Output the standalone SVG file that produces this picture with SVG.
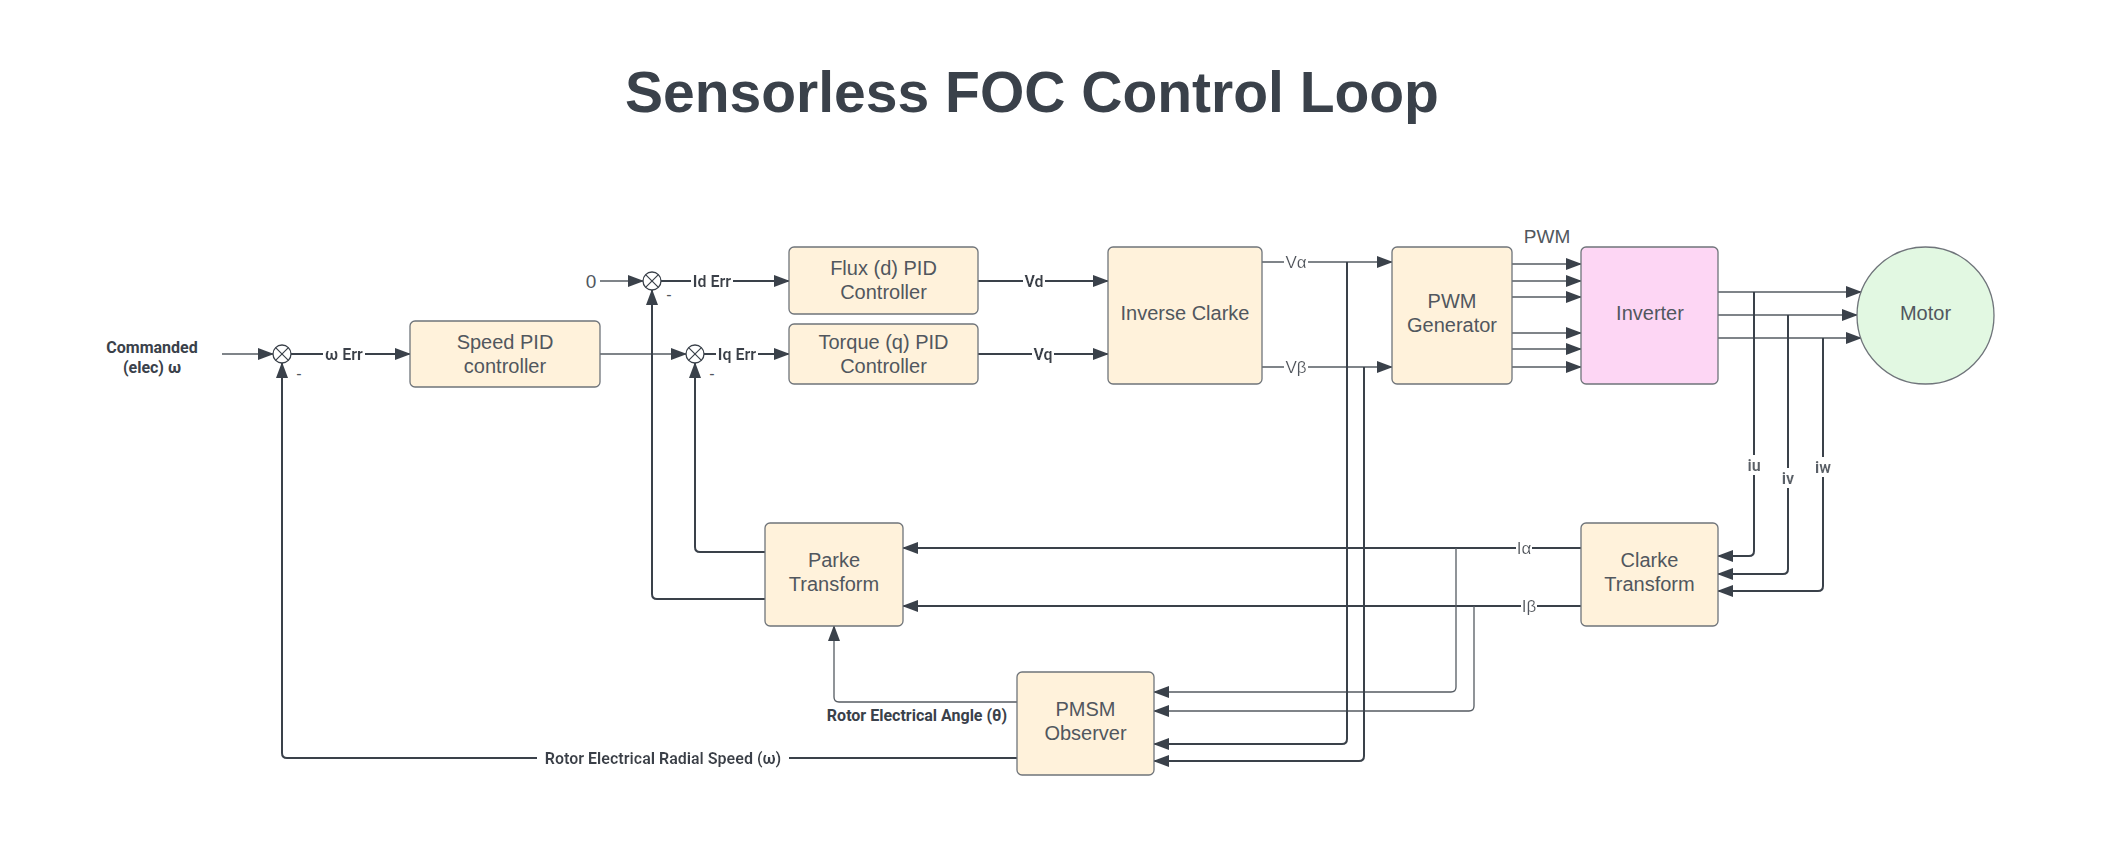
<svg xmlns="http://www.w3.org/2000/svg" width="2116" height="854" viewBox="0 0 2116 854">
<defs>
<marker id="ah" markerUnits="userSpaceOnUse" markerWidth="16" markerHeight="12" refX="15" refY="6" orient="auto">
<path d="M0,0 L16,6 L0,12 Z" fill="#3a414a"/>
</marker>
<filter id="bg" x="-0.03" y="0" width="1.06" height="1">
<feFlood flood-color="#ffffff"/>
<feComposite in="SourceGraphic"/>
</filter>
<style>
.title{font-family:"Liberation Sans",Arial,sans-serif;font-weight:bold;font-size:57px;fill:#3a414a}
.box{fill:#fff2db;stroke:#6f747a;stroke-width:1.3}
.nt{font-family:"Liberation Sans",Arial,sans-serif;font-size:20px;fill:#51575e;text-anchor:middle}
.lb{font-family:Roboto,"Liberation Sans",sans-serif;font-weight:bold;font-size:16px;fill:#3a414a;text-anchor:middle;dominant-baseline:central}
.ln{font-family:"Liberation Sans",Arial,sans-serif;font-size:17px;fill:#51575e;text-anchor:middle;dominant-baseline:central}
.bgf{filter:url(#bg)}
.w{fill:none;stroke:#3a414a;stroke-width:2}
.t{fill:none;stroke:#555b62;stroke-width:1.3}
.sum{fill:#fff;stroke:#3a414a;stroke-width:1.3}
</style>
</defs>
<rect width="2116" height="854" fill="#fff"/>
<text class="title" x="1032" y="112" text-anchor="middle">Sensorless FOC Control Loop</text>

<g id="connectors">
<path class="t" d="M222,354 H273" marker-end="url(#ah)"/>
<path class="w" d="M291,354 H410" marker-end="url(#ah)"/>
<path class="t" d="M600,354 H686" marker-end="url(#ah)"/>
<path class="t" d="M600,281 H643" marker-end="url(#ah)"/>
<path class="w" d="M661,281 H789" marker-end="url(#ah)"/>
<path class="w" d="M704,354 H789" marker-end="url(#ah)"/>
<path class="w" d="M978,281 H1108" marker-end="url(#ah)"/>
<path class="w" d="M978,354 H1108" marker-end="url(#ah)"/>
<path class="t" d="M1262,262 H1392" marker-end="url(#ah)"/>
<path class="t" d="M1262,367 H1392" marker-end="url(#ah)"/>
<path class="t" d="M1512,264 H1581" marker-end="url(#ah)"/>
<path class="t" d="M1512,281 H1581" marker-end="url(#ah)"/>
<path class="t" d="M1512,297 H1581" marker-end="url(#ah)"/>
<path class="t" d="M1512,333 H1581" marker-end="url(#ah)"/>
<path class="t" d="M1512,349 H1581" marker-end="url(#ah)"/>
<path class="t" d="M1512,367 H1581" marker-end="url(#ah)"/>
<path class="t" d="M1718,292 H1861" marker-end="url(#ah)"/>
<path class="t" d="M1718,315 H1857" marker-end="url(#ah)"/>
<path class="t" d="M1718,338 H1861" marker-end="url(#ah)"/>
<path class="w" d="M1754,292 V551 Q1754,556 1749,556 H1718" marker-end="url(#ah)"/>
<path class="w" d="M1788,315 V569 Q1788,574 1783,574 H1718" marker-end="url(#ah)"/>
<path class="w" d="M1823,338 V586 Q1823,591 1818,591 H1718" marker-end="url(#ah)"/>
<path class="w" d="M1581,548 H903" marker-end="url(#ah)"/>
<path class="w" d="M1581,606 H903" marker-end="url(#ah)"/>
<path class="t" d="M1456,548 V687 Q1456,692 1451,692 H1154" marker-end="url(#ah)"/>
<path class="t" d="M1474,606 V706 Q1474,711 1469,711 H1154" marker-end="url(#ah)"/>
<path class="w" d="M1347,262 V739 Q1347,744 1342,744 H1154" marker-end="url(#ah)"/>
<path class="w" d="M1364,367 V756 Q1364,761 1359,761 H1154" marker-end="url(#ah)"/>
<path class="t" d="M1017,702 H839 Q834,702 834,697 V626" marker-end="url(#ah)"/>
<path class="w" d="M1017,758 H287 Q282,758 282,753 V363" marker-end="url(#ah)"/>
<path class="w" d="M765,552 H700 Q695,552 695,547 V363" marker-end="url(#ah)"/>
<path class="w" d="M765,599 H657 Q652,599 652,594 V290" marker-end="url(#ah)"/>
<text class="lb bgf" x="344" y="354">ω Err</text>
<text class="lb bgf" x="712" y="281">Id Err</text>
<text class="lb bgf" x="737" y="354">Iq Err</text>
<text class="lb bgf" x="1034" y="281">Vd</text>
<text class="lb bgf" x="1043" y="354">Vq</text>
<text class="ln bgf" x="1296" y="262">Vα</text>
<text class="ln bgf" x="1296" y="367">Vβ</text>
<text class="ln bgf" x="1524" y="548">Iα</text>
<text class="ln bgf" x="1529" y="606">Iβ</text>
<text class="lb bgf" x="1754" y="465" style="fill:#5a6067">iu</text>
<text class="lb bgf" x="1788" y="478" style="fill:#5a6067">iv</text>
<text class="lb bgf" x="1823" y="467" style="fill:#5a6067">iw</text>
<text class="lb" x="917" y="715">Rotor Electrical Angle (θ)</text>
<text class="lb bgf" x="663" y="758">Rotor Electrical Radial Speed (ω)</text>
</g>

<g id="cmd">
<text class="lb" x="152" y="347">Commanded</text>
<text class="lb" x="152" y="367">(elec) ω</text>
</g>
<g id="zero"><text class="nt" x="591" y="288" style="font-size:19px">0</text></g>
<g id="sum_w">
<circle class="sum" cx="282" cy="354" r="9"/>
<path d="M275.6,347.6 L288.4,360.4 M288.4,347.6 L275.6,360.4" stroke="#3a414a" stroke-width="1.2"/>
<text class="nt" x="299" y="379" style="font-size:16px">-</text>
</g>
<g id="sum_d">
<circle class="sum" cx="652" cy="281" r="9"/>
<path d="M645.6,274.6 L658.4,287.4 M658.4,274.6 L645.6,287.4" stroke="#3a414a" stroke-width="1.2"/>
<text class="nt" x="669" y="300" style="font-size:16px">-</text>
</g>
<g id="sum_q">
<circle class="sum" cx="695" cy="354" r="9"/>
<path d="M688.6,347.6 L701.4,360.4 M701.4,347.6 L688.6,360.4" stroke="#3a414a" stroke-width="1.2"/>
<text class="nt" x="712" y="379" style="font-size:16px">-</text>
</g>
<g id="speed_pid">
<rect class="box" x="410" y="321" width="190" height="66" rx="5"/>
<text class="nt" x="505" y="349">Speed PID</text>
<text class="nt" x="505" y="373">controller</text>
</g>
<g id="flux_pid">
<rect class="box" x="789" y="247" width="189" height="67" rx="5"/>
<text class="nt" x="883.5" y="275">Flux (d) PID</text>
<text class="nt" x="883.5" y="299">Controller</text>
</g>
<g id="torque_pid">
<rect class="box" x="789" y="324" width="189" height="60" rx="5"/>
<text class="nt" x="883.5" y="349">Torque (q) PID</text>
<text class="nt" x="883.5" y="373">Controller</text>
</g>
<g id="inv_clarke">
<rect class="box" x="1108" y="247" width="154" height="137" rx="5"/>
<text class="nt" x="1185" y="320">Inverse Clarke</text>
</g>
<g id="pwm_gen">
<rect class="box" x="1392" y="247" width="120" height="137" rx="5"/>
<text class="nt" x="1452" y="308">PWM</text>
<text class="nt" x="1452" y="332">Generator</text>
</g>
<g id="pwm_label"><text class="nt" x="1547" y="243" style="font-size:19px">PWM</text></g>
<g id="inverter">
<rect x="1581" y="247" width="137" height="137" rx="5" fill="#fdd6f4" stroke="#6f747a" stroke-width="1.3"/>
<text class="nt" x="1650" y="320">Inverter</text>
</g>
<g id="motor">
<circle cx="1925.5" cy="315.5" r="68.5" fill="#e2f8e2" stroke="#6f747a" stroke-width="1.3"/>
<text class="nt" x="1925.5" y="320">Motor</text>
</g>
<g id="clarke">
<rect class="box" x="1581" y="523" width="137" height="103" rx="5"/>
<text class="nt" x="1649.5" y="567">Clarke</text>
<text class="nt" x="1649.5" y="591">Transform</text>
</g>
<g id="parke">
<rect class="box" x="765" y="523" width="138" height="103" rx="5"/>
<text class="nt" x="834" y="567">Parke</text>
<text class="nt" x="834" y="591">Transform</text>
</g>
<g id="pmsm">
<rect class="box" x="1017" y="672" width="137" height="103" rx="5"/>
<text class="nt" x="1085.5" y="716">PMSM</text>
<text class="nt" x="1085.5" y="740">Observer</text>
</g>
</svg>
